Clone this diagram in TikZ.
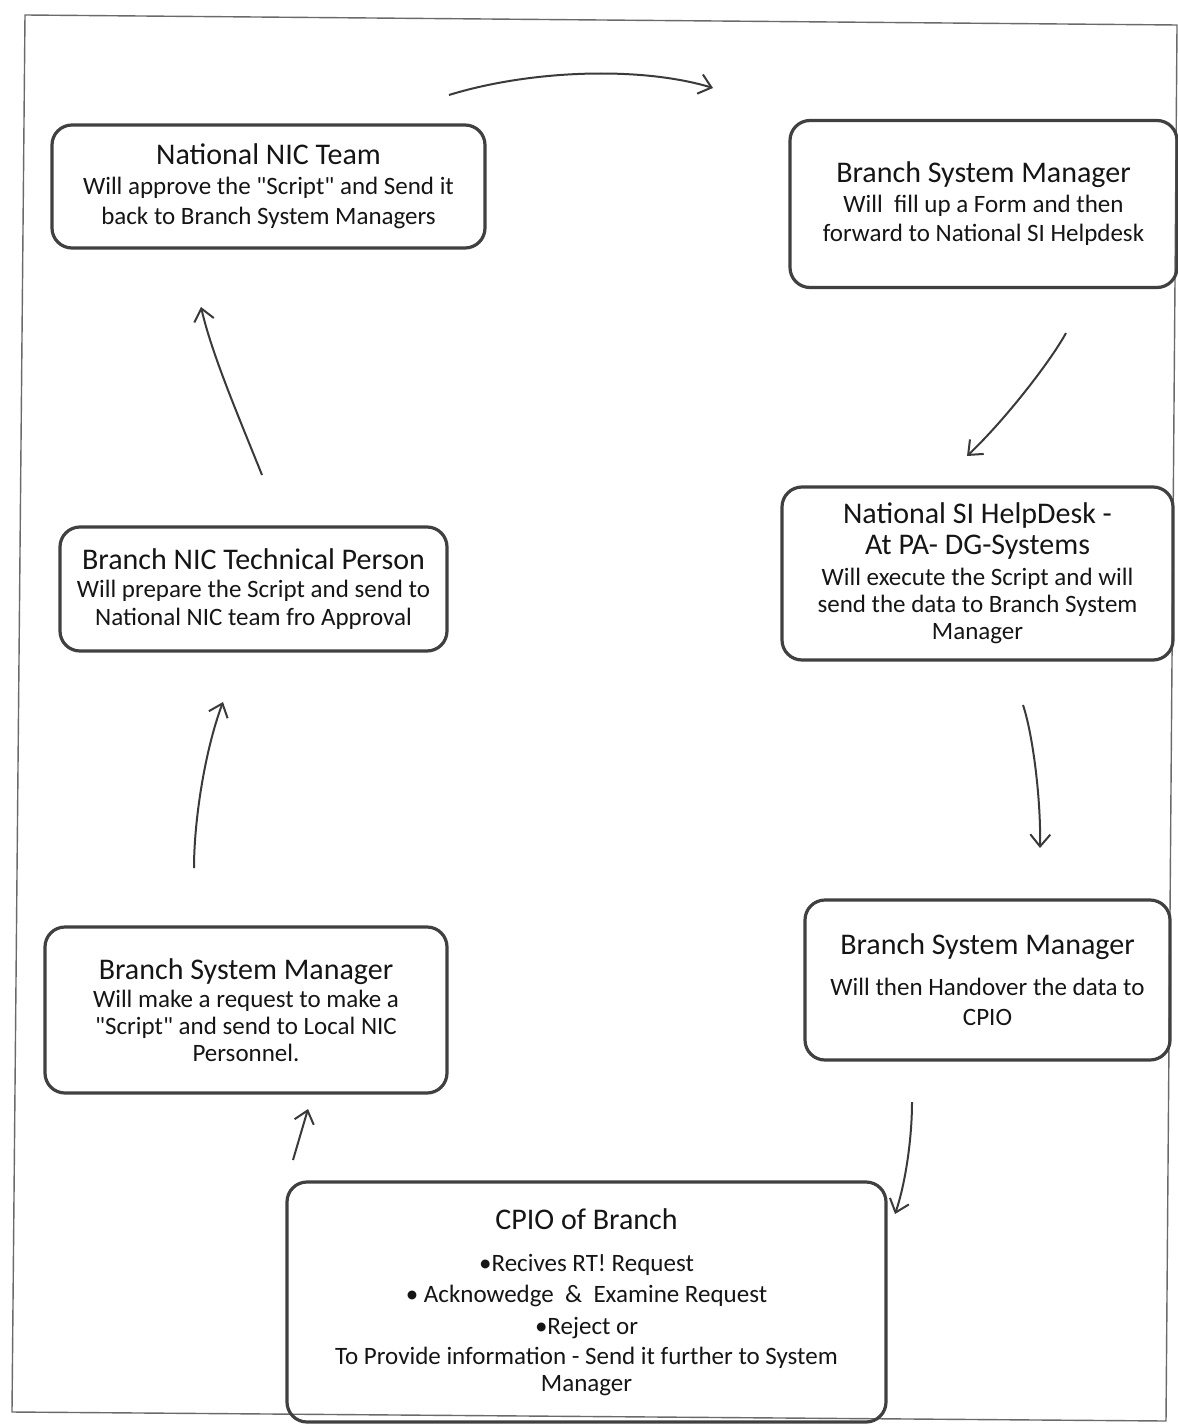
\documentclass[tikz,border=0pt]{standalone}
\usepackage{fontspec}
\setmainfont{Carlito}
\usetikzlibrary{arrows.meta}
\definecolor{boxgray}{HTML}{404040}
\definecolor{arrowgray}{HTML}{3A3A3A}
\definecolor{framegray}{HTML}{6A6A6A}
\definecolor{textblack}{HTML}{151515}
\newcommand\boxtitle[1]{{\fontsize{15}{16}\selectfont #1}}
\newcommand\dq{\textquotedbl}
\newcommand\boxbodyfont{\fontsize{12.5}{13.5}\selectfont\setlength{\lineskiplimit}{-100pt}}
\tikzset{
  stagebox/.style={draw=boxgray, line width=1.6pt, rounded corners=10pt,
    align=center, inner sep=0pt, text=textblack,
    font=\boxbodyfont},
  flow/.style={draw=arrowgray, line width=1pt,
    -{Straight Barb[length=6pt,width=10pt,line width=1pt]}},
  pageframe/.style={draw=framegray, line width=0.7pt}
}
\begin{document}
\begin{tikzpicture}[x=0.5pt, y=-0.5pt]
\useasboundingbox (0,0) rectangle (1177,1428);
\draw[pageframe] (25,15) -- (1177,25) -- (1166,1421) -- (12,1412) -- cycle;

\node[stagebox, minimum width=216.5pt, minimum height=61.5pt] (nic) at (268.5,186.5)
  {\boxtitle{National NIC Team}\\[1.5pt]
   Will approve the \dq Script\dq\ and Send it\\[1.5pt]
   back to Branch System Managers};

\node[stagebox, minimum width=193.5pt, minimum height=83.5pt] (bsmtop) at (983.5,204)
  {\boxtitle{Branch System Manager}\\[1.5pt]
   Will\ \ fill up a Form and then\\[1pt]
   forward to National SI Helpdesk};

\node[stagebox, minimum width=195.5pt, minimum height=86.5pt] (helpdesk) at (977.5,573.5)
  {\boxtitle{National SI HelpDesk -}\\[2pt]
   \boxtitle{At PA- DG-Systems}\\[2pt]
   Will execute the Script and will\\
   send the data to Branch System\\
   Manager};

\node[stagebox, minimum width=182.5pt, minimum height=80pt] (bsmright) at (987.5,980)
  {\boxtitle{Branch System Manager}\\[7pt]
   Will then Handover the data to\\[1.5pt]
   CPIO};

\node[stagebox, minimum width=299.5pt, minimum height=120pt] (cpio) at (586.5,1302)
  {\boxtitle{CPIO of Branch}\\[7.5pt]
   •Recives RT! Request\\[2pt]
   • Acknowedge\ \ \&\ \ Examine Request\\[2.5pt]
   •Reject or\\[1.5pt]
   To Provide information - Send it further to System\\
   Manager};

\node[stagebox, minimum width=201pt, minimum height=83pt] (bsmleft) at (246,1010)
  {\boxtitle{Branch System Manager}\\[0.5pt]
   Will make a request to make a\\
   \dq Script\dq\ and send to Local NIC\\
   Personnel.};

\node[stagebox, minimum width=193.5pt, minimum height=62pt] (tech) at (253.5,589)
  {\boxtitle{Branch NIC Technical Person}\\[0.5pt]
   Will prepare the Script and send to\\[0.5pt]
   National NIC team fro Approval};

% connector end points (free ends)
\coordinate (a1) at (449,95);   \coordinate (a2) at (713,88);
\coordinate (b1) at (1066,333); \coordinate (b2) at (967,456);
\coordinate (c1) at (1023,705); \coordinate (c2) at (1040,848);
\coordinate (d1) at (912,1102); \coordinate (d2) at (895,1214);
\coordinate (e1) at (293,1160); \coordinate (e2) at (308,1109);
\coordinate (f1) at (194,868);  \coordinate (f2) at (223,702);
\coordinate (g1) at (262,475);  \coordinate (g2) at (201,307);

\draw[flow] (a1) .. controls (530,70) and (640,66) .. (a2);
\draw[flow] (b1) .. controls (1050,362) and (1005,420) .. (b2);
\draw[flow] (c1) .. controls (1033,735) and (1041,800) .. (c2);
\draw[flow] (d1) .. controls (912,1140) and (905,1185) .. (d2);
\draw[flow] (e1) .. controls (298,1143) and (303,1126) .. (e2);
\draw[flow] (f1) .. controls (194,820) and (205,750) .. (f2);
\draw[flow] (g1) .. controls (240,420) and (212,355) .. (g2);
\end{tikzpicture}
\end{document}
